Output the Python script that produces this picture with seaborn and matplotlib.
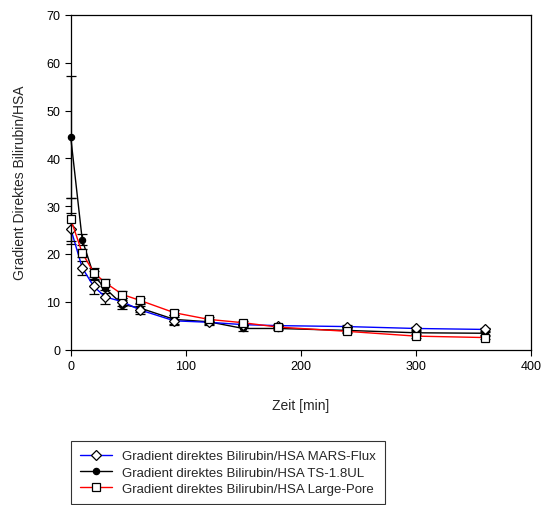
import numpy as np
import pandas as pd
import matplotlib.pyplot as plt
import seaborn as sns

# %% Daten
zeit = [0, 10, 20, 30, 45, 60, 90, 120, 150, 180, 240, 300, 360]

mars_flux = [25.3, 17.1, 13.2, 11.0, 10.0, 8.3, 6.0, 5.7, 5.2, 5.0, 4.8, 4.4, 4.2]
mars_flux_err = [3.2, 1.5, 1.5, 1.4, 0.8, 0.8, 0.8, 0.5, 0.4, 0.3, 0.3, 0.3, 0.3]

ts_18ul = [44.5, 23.0, 15.5, 12.8, 9.4, 8.7, 6.3, 5.8, 4.4, 4.4, 4.0, 3.5, 3.4]
ts_18ul_err = [12.8, 1.1, 1.0, 1.0, 0.9, 0.9, 0.9, 0.5, 0.5, 0.4, 0.3, 0.3, 0.3]

large_pore = [27.3, 20.2, 16.1, 14.0, 11.5, 10.3, 7.7, 6.3, 5.6, 4.7, 3.8, 2.8, 2.5]
large_pore_err = [4.5, 0.9, 1.0, 0.8, 0.8, 0.5, 0.5, 0.4, 0.4, 0.4, 0.3, 0.3, 0.3]

namen = ["Gradient direktes Bilirubin/HSA MARS-Flux",
         "Gradient direktes Bilirubin/HSA TS-1.8UL",
         "Gradient direktes Bilirubin/HSA Large-Pore"]

# %% Grafik
sns.set_style("ticks")
plt.rcParams["font.family"] = ["Liberation Sans", "DejaVu Sans"]

fig = plt.figure(figsize = (5.41, 5.06), dpi = 100)
ax = fig.add_axes([0.1307, 0.3073, 0.8508, 0.6611])

# Reihenfolge beim Zeichnen: TS, MARS, Large-Pore (Quadrate oben)
reihen = [
    (ts_18ul, ts_18ul_err, namen[1], "black", "o", "black", 4.5, 2),
    (mars_flux, mars_flux_err, namen[0], "blue", "D", "white", 4.8, 3),
    (large_pore, large_pore_err, namen[2], "red", "s", "white", 5.5, 4),
]

for werte, fehler, name, farbe, marker, fuellung, msize, z in reihen:
    df = pd.DataFrame({"Zeit": zeit, "Wert": werte})
    eb = ax.errorbar(zeit, werte, yerr = fehler, fmt = "none", ecolor = "black",
                     elinewidth = 0.9, capsize = 3.5, capthick = 0.9, zorder = z)
    for teil in eb.lines[1] + eb.lines[2]:
        teil.set_clip_on(False)
    sns.lineplot(data = df, x = "Zeit", y = "Wert", ax = ax, color = farbe,
                 linewidth = 1, marker = marker, markersize = msize,
                 markerfacecolor = fuellung, markeredgecolor = "black",
                 markeredgewidth = 0.9, label = name, zorder = z + 0.5,
                 clip_on = False)

ax.set_xlim(0, 400)
ax.set_ylim(0, 70)
ax.set_xticks(range(0, 401, 100))
ax.set_yticks(range(0, 71, 10))
ax.tick_params(direction = "out", length = 4, width = 0.8, labelsize = 9,
               color = "black", labelcolor = "black")
for spine in ax.spines.values():
    spine.set_visible(True)
    spine.set_color("black")
    spine.set_linewidth(0.9)

ax.set_xlabel("Zeit [min]", fontsize = 10, labelpad = 19)
ax.set_ylabel("Gradient Direktes Bilirubin/HSA", fontsize = 10, labelpad = 14)

# Legende unten, Reihenfolge MARS, TS, Large-Pore
handles, labels = ax.get_legend_handles_labels()
ordnung = [labels.index(n) for n in namen]
ax.legend_.remove()
leg = fig.legend([handles[i] for i in ordnung], [labels[i] for i in ordnung],
                 loc = "upper left", bbox_to_anchor = (0.131, 0.1265),
                 borderaxespad = 0, fontsize = 9.5, handlelength = 2.4,
                 frameon = True, fancybox = False, edgecolor = "black",
                 borderpad = 0.7, labelspacing = 0.3)
leg.get_frame().set_linewidth(0.8)

fig.savefig("out.png", dpi = 100)
